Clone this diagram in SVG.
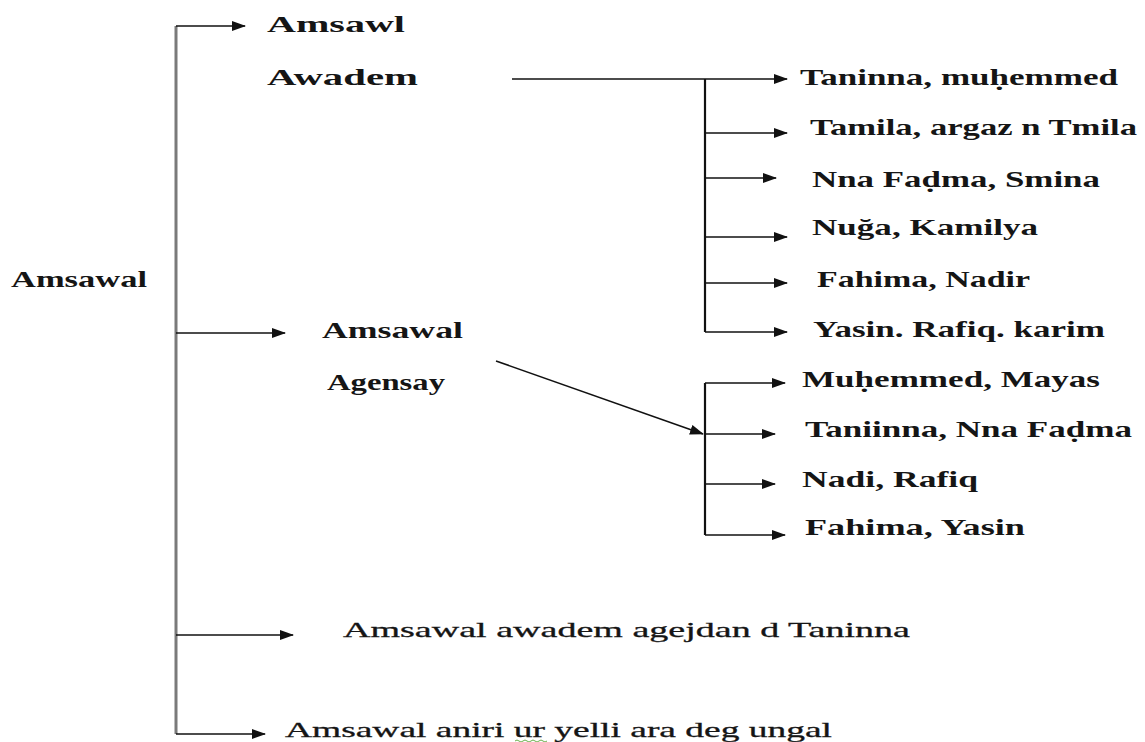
<svg xmlns="http://www.w3.org/2000/svg" width="1145" height="742" viewBox="0 0 1145 742">
<style>
text{font-family:"Liberation Serif","Times New Roman",serif;fill:#151515}
.b{font-weight:bold;font-size:24px}
.n{font-weight:normal;font-size:22px;stroke:#151515;stroke-width:0.3}
.ln{stroke:#111;stroke-width:1.6;fill:none}
.main{stroke:#7a7a7a;stroke-width:3;fill:none}
</style>
<defs>
<marker id="ah" viewBox="0 0 14 10" refX="13" refY="5" markerWidth="14" markerHeight="10" markerUnits="userSpaceOnUse" orient="auto">
<path d="M0,0 L14,5 L0,10 Z" fill="#111"/>
</marker>
</defs>
<rect width="1145" height="742" fill="#fff"/>
<g id="connectors">
<path class="main" d="M176,26 V734"/>
<path class="ln" d="M176,26 H245" marker-end="url(#ah)"/>
<path class="ln" d="M176,333 H285" marker-end="url(#ah)"/>
<path class="ln" d="M176,635 H293" marker-end="url(#ah)"/>
<path class="ln" d="M176,734 H265" marker-end="url(#ah)"/>
<path class="ln" d="M512,79 H787" marker-end="url(#ah)"/>
<path class="ln" style="stroke-width:2.2" d="M705,79 V332"/>
<path class="ln" d="M705,133 H787" marker-end="url(#ah)"/>
<path class="ln" d="M705,178 H776" marker-end="url(#ah)"/>
<path class="ln" d="M705,237 H787" marker-end="url(#ah)"/>
<path class="ln" d="M705,283 H787" marker-end="url(#ah)"/>
<path class="ln" d="M705,332 H787" marker-end="url(#ah)"/>
<path class="ln" d="M496,361 L703,434" marker-end="url(#ah)"/>
<path class="ln" style="stroke-width:2.2" d="M705,383 V535"/>
<path class="ln" d="M705,383 H785" marker-end="url(#ah)"/>
<path class="ln" d="M705,434 H775" marker-end="url(#ah)"/>
<path class="ln" d="M705,484 H775" marker-end="url(#ah)"/>
<path class="ln" d="M705,535 H785" marker-end="url(#ah)"/>
</g>
<g id="n-root"><text class="b" x="11" y="287" textLength="136" lengthAdjust="spacingAndGlyphs">Amsawal</text></g>
<g id="n-amsawl"><text class="b" x="267" y="32" textLength="138" lengthAdjust="spacingAndGlyphs">Amsawl</text></g>
<g id="n-awadem"><text class="b" x="267" y="85" textLength="151" lengthAdjust="spacingAndGlyphs">Awadem</text></g>
<g id="n-amsawal2"><text class="b" x="322" y="338" textLength="141" lengthAdjust="spacingAndGlyphs">Amsawal</text></g>
<g id="n-agensay"><text class="b" x="327" y="390" textLength="118" lengthAdjust="spacingAndGlyphs">Agensay</text></g>
<g id="n-r1"><text class="b" x="800" y="85" textLength="318" lengthAdjust="spacingAndGlyphs">Taninna, muḥemmed</text></g>
<g id="n-r2"><text class="b" x="810" y="135" textLength="327" lengthAdjust="spacingAndGlyphs">Tamila, argaz n Tmila</text></g>
<g id="n-r3"><text class="b" x="812" y="187" textLength="288" lengthAdjust="spacingAndGlyphs">Nna Faḍma, Smina</text></g>
<g id="n-r4"><text class="b" x="812" y="235" textLength="226" lengthAdjust="spacingAndGlyphs">Nuğa, Kamilya</text></g>
<g id="n-r5"><text class="b" x="817" y="287" textLength="213" lengthAdjust="spacingAndGlyphs">Fahima, Nadir</text></g>
<g id="n-r6"><text class="b" x="813" y="337" textLength="292" lengthAdjust="spacingAndGlyphs">Yasin. Rafiq. karim</text></g>
<g id="n-s1"><text class="b" x="802" y="387" textLength="298" lengthAdjust="spacingAndGlyphs">Muḥemmed, Mayas</text></g>
<g id="n-s2"><text class="b" x="805" y="437" textLength="327" lengthAdjust="spacingAndGlyphs">Taniinna, Nna Faḍma</text></g>
<g id="n-s3"><text class="b" x="802" y="487" textLength="176" lengthAdjust="spacingAndGlyphs">Nadi, Rafiq</text></g>
<g id="n-s4"><text class="b" x="805" y="535" textLength="220" lengthAdjust="spacingAndGlyphs">Fahima, Yasin</text></g>
<g id="n-b1"><text class="n" x="343" y="637" textLength="567" lengthAdjust="spacingAndGlyphs">Amsawal awadem agejdan d Taninna</text></g>
<g id="n-b2"><text class="n" x="285" y="737" textLength="547" lengthAdjust="spacingAndGlyphs">Amsawal aniri ur yelli ara deg ungal</text>
<path d="M515,741 q2,-2 4,0 t4,0 t4,0 t4,0 t4,0 t4,0 t4,0 t4,0" stroke="#6ab04c" stroke-width="1" fill="none"/></g>
</svg>
